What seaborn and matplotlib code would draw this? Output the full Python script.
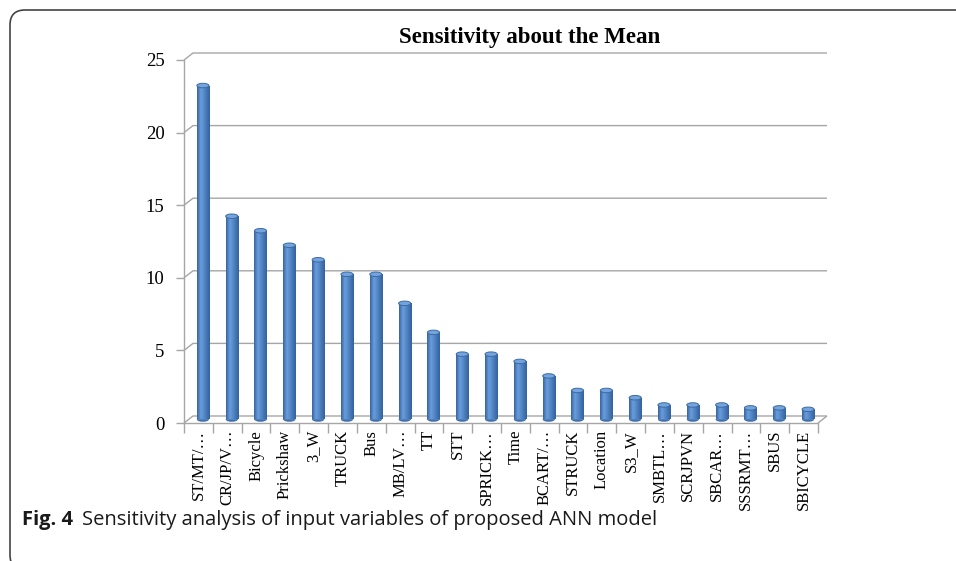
import matplotlib
matplotlib.use("Agg")
import matplotlib.pyplot as plt
from matplotlib.patches import Ellipse, FancyBboxPatch
from matplotlib.colors import LinearSegmentedColormap
from matplotlib.transforms import IdentityTransform
import numpy as np
import pandas as pd
import seaborn as sns

# Input variables of the ANN model and their sensitivity about the mean
variables = ["ST/MT/…", "CR/JP/V…", "Bicycle", "Prickshaw", "3_W", "TRUCK", "Bus",
             "MB/LV…", "TT", "STT", "SPRICK…", "Time", "BCART/…", "STRUCK",
             "Location", "S3_W", "SMBTL…", "SCRJPVN", "SBCAR…", "SSSRMT…",
             "SBUS", "SBICYCLE"]
sensitivity = [23, 14, 13, 12, 11, 10, 10, 8, 6, 4.5, 4.5, 4, 3, 2, 2, 1.5,
               1, 1, 1, 0.8, 0.8, 0.7]
y_ticks = [0, 5, 10, 15, 20, 25]

chart_title = "Sensitivity about the Mean"
caption_tag = "Fig. 4"
caption_text = "Sensitivity analysis of input variables of proposed ANN model"

sns.set_theme(style="white")
plt.rcParams["font.family"] = ["Liberation Serif", "DejaVu Serif"]

W, H = 956, 561
fig = plt.figure(figsize=(W / 100, H / 100), dpi=100)
fig.patch.set_facecolor("white")

# plot area (front plane) in pixels
left, right, top, bottom = 184, 818, 60, 423
ax = fig.add_axes([left / W, 1 - bottom / H, (right - left) / W, (bottom - top) / H])
ax.set_facecolor("none")

df = pd.DataFrame({"variable": variables, "sensitivity": sensitivity})
sns.barplot(data=df, x="variable", y="sensitivity", color="#4F81BD",
            saturation=1, width=0.42, ax=ax, zorder=3)
bars = list(ax.patches)

n = len(variables)
ymax = y_ticks[-1]
px_x = (right - left) / n
px_y = (bottom - top) / ymax
ddx = 9 / px_x   # depth offset of the back wall in data units
ddy = 7 / px_y

grid_kw = dict(color="#A6A6A6", lw=1.0, clip_on=False, zorder=1,
               solid_capstyle="butt")
for v in y_ticks:
    ax.plot([-0.5, -0.5 + ddx, n - 0.5 + ddx], [v, v + ddy, v + ddy], **grid_kw)
ax.plot([n - 0.5, n - 0.5 + ddx], [0, ddy], **grid_kw)

# cylinder shading
cyl = LinearSegmentedColormap.from_list(
    "cyl", [(0.0, "#35649F"), (0.3, "#6A9DDC"), (0.55, "#5689C9"), (1.0, "#33619B")])
grad = np.linspace(0, 1, 64).reshape(1, -1)
eh = 4.5 / px_y
for p in bars:
    p.set_x(p.get_x() + ddx / 2)
    p.set_y(ddy / 2)
    p.set_edgecolor("none")
    x0, w, h = p.get_x(), p.get_width(), p.get_height()
    cx = x0 + w / 2
    base = Ellipse((cx, ddy / 2), w, eh, facecolor="#426FAA", edgecolor="none",
                   zorder=2.9, clip_on=False)
    ax.add_patch(base)
    im = ax.imshow(grad, cmap=cyl, aspect="auto", interpolation="bilinear",
                   extent=[x0, x0 + w, ddy / 2, ddy / 2 + h], zorder=3.1)
    im.set_clip_path(p)
    cap = Ellipse((cx, ddy / 2 + h), w, eh, facecolor="#75A3DB",
                  edgecolor="#3B6BA6", lw=0.7, zorder=3.2, clip_on=False)
    ax.add_patch(cap)

ax.set_xlim(-0.5, n - 0.5)
ax.set_ylim(0, ymax)
ax.set_xlabel("")
ax.set_ylabel("")

for s in ["top", "right"]:
    ax.spines[s].set_visible(False)
for s in ["left", "bottom"]:
    ax.spines[s].set_color("#A6A6A6")
    ax.spines[s].set_linewidth(1.0)
    ax.spines[s].set_zorder(1)

ax.set_yticks(y_ticks)
ax.set_yticklabels([str(t) for t in y_ticks])
ax.tick_params(axis="y", left=True, direction="out", length=6, width=1,
               color="#A6A6A6", labelsize=13.5, pad=8, labelcolor="black")
ax.set_xticks(range(n))
ax.set_xticklabels(variables, rotation=90, fontsize=12, color="black")
ax.tick_params(axis="x", which="major", length=0, pad=5)
ax.set_xticks(np.arange(-0.5, n, 1), minor=True)
ax.tick_params(axis="x", which="minor", bottom=True, direction="out", length=7,
               width=1, color="#A6A6A6")

fig.text(530 / W, 1 - 38 / H, chart_title, ha="center", va="center",
         fontsize=16.5, fontweight="bold", color="black")

# caption below the chart
renderer = fig.canvas.get_renderer()
tag = fig.text(22 / W, 1 - 520 / H, caption_tag, ha="left", va="center",
               fontsize=14.5, fontweight="bold", family="Open Sans", color="#1A1A1A")
bb = tag.get_window_extent(renderer)
fig.text((bb.x1 + 9) / W, 1 - 520 / H, caption_text, ha="left", va="center",
         fontsize=14.5, family="Open Sans", color="#1A1A1A")

# rounded frame around the figure
frame = FancyBboxPatch((10, -9), 1100, 560, boxstyle="round,pad=0,rounding_size=15",
                       transform=IdentityTransform(), facecolor="none",
                       edgecolor="#444444", lw=1.2, clip_on=False)
fig.add_artist(frame)

fig.savefig("out.png", dpi=100, facecolor="white")
